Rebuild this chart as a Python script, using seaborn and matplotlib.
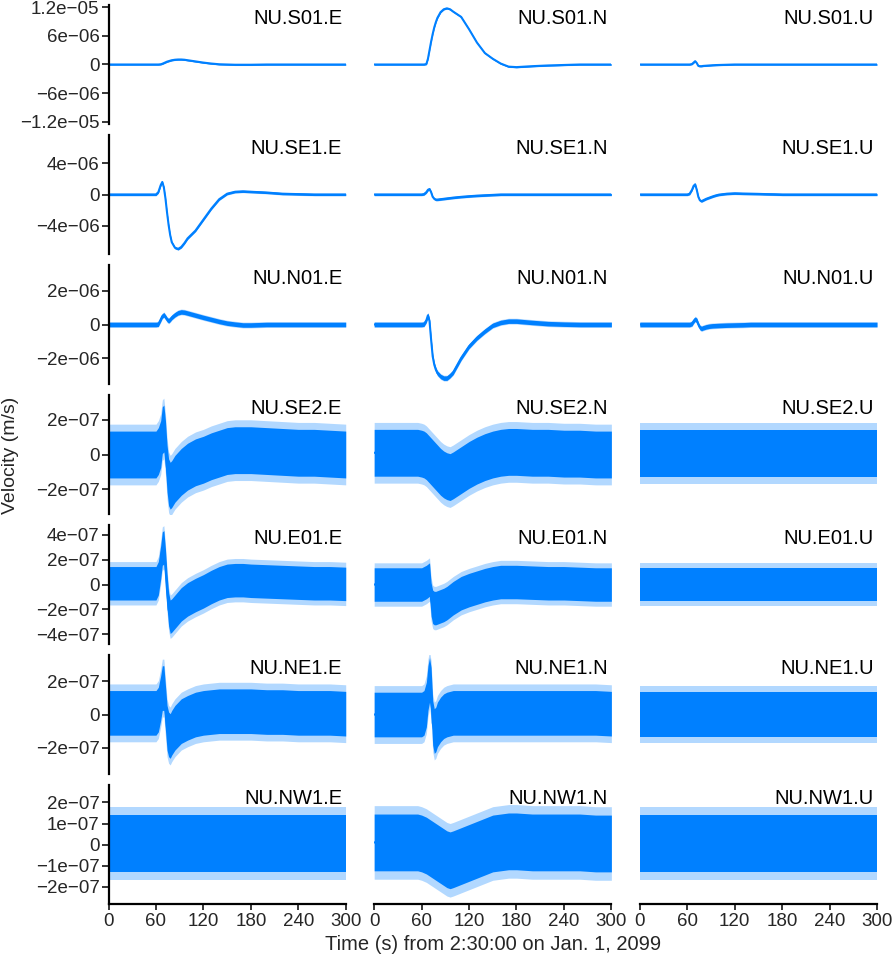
import numpy as np
import matplotlib
matplotlib.use("Agg")
import matplotlib.pyplot as plt
import seaborn as sns

# time knots (s) shared by every trace
time_s = [0, 20, 40, 55, 60, 63, 66, 68, 70, 72, 74, 76, 78, 80, 84, 88, 92, 96,
          100, 110, 120, 130, 140, 150, 160, 170, 180, 200, 220, 240, 260, 280, 300]

stations = ["S01", "SE1", "N01", "SE2", "E01", "NE1", "NW1"]
components = ["E", "N", "U"]
# values below are in these units (m/s) per row
row_unit = [1e-6, 1e-6, 1e-6, 1e-7, 1e-7, 1e-7, 1e-7]

s01_e = [0, 0, 0, 0, 0, 0, 0.05, 0.15, 0.3, 0.45, 0.6, 0.7, 0.8, 0.9, 1.0, 1.05, 1.05,
         1.0, 0.9, 0.65, 0.4, 0.2, 0.05, 0, -0.05, -0.05, -0.05, 0, 0, 0, 0, 0, 0]
s01_n = [0, 0, 0, 0, 0, 0, 0.1, 1.2, 3.0, 4.8, 6.4, 7.8, 8.9, 9.8, 11.0, 11.6, 11.8,
         11.6, 11.1, 10.0, 7.4, 4.6, 2.4, 1.2, 0.2, -0.45, -0.55, -0.35, -0.2, -0.1, 0, 0, 0]
s01_u = [0, 0, 0, 0, 0, 0, 0.1, 0.4, 0.7, 0.3, -0.3, -0.35, -0.35, -0.3, -0.25, -0.2, -0.15,
         -0.12, -0.1, -0.05, 0, 0, 0, 0, 0, 0, 0, 0, 0, 0, 0, 0, 0]

se1_e = [0, 0, 0, 0, 0, 0.3, 1.2, 1.6, 0.9, -0.5, -2.3, -3.9, -5.2, -6.1, -6.8, -6.95, -6.7,
         -6.2, -5.6, -4.6, -3.2, -1.8, -0.6, 0.1, 0.35, 0.4, 0.35, 0.25, 0.1, 0.05, 0, 0, 0]
se1_n = [0, 0, 0, 0, 0, 0.05, 0.3, 0.6, 0.7, 0.3, -0.3, -0.55, -0.65, -0.65, -0.6, -0.55, -0.5,
         -0.45, -0.4, -0.3, -0.22, -0.15, -0.1, -0.05, 0, 0, 0, 0, 0, 0, 0, 0, 0]
se1_u = [0, 0, 0, 0, 0, 0.1, 0.6, 1.1, 1.3, 0.6, -0.3, -0.75, -0.85, -0.75, -0.55, -0.4, -0.25,
         -0.12, -0.02, 0.1, 0.15, 0.12, 0.1, 0.08, 0.05, 0.03, 0, 0, 0, 0, 0, 0, 0]

n01_e = [0, 0, 0, 0, 0, 0.02, 0.3, 0.5, 0.58, 0.45, 0.3, 0.22, 0.3, 0.42, 0.58, 0.7, 0.75,
         0.73, 0.68, 0.55, 0.42, 0.3, 0.18, 0.08, 0.02, -0.03, -0.03, 0, 0, 0, 0, 0, 0]
n01_n = [0, 0, 0, 0, 0, 0.02, 0.25, 0.55, 0.2, -0.9, -1.9, -2.4, -2.7, -2.9, -3.1, -3.2, -3.2,
         -3.05, -2.85, -2.0, -1.3, -0.8, -0.4, -0.05, 0.12, 0.2, 0.2, 0.12, 0.05, 0.02, 0, 0, 0]
n01_u = [0, 0, 0, 0, 0, 0, 0.05, 0.2, 0.32, 0.25, 0.0, -0.18, -0.24, -0.2, -0.14, -0.1, -0.08,
         -0.07, -0.06, -0.04, -0.03, -0.02, 0, 0, 0, 0, 0, 0, 0, 0, 0, 0, 0]

se2_e = [0, 0, 0, 0, 0, 0.2, 0.6, 1.4, 1.5, 0.6, -0.8, -1.6, -1.8, -1.7, -1.4, -1.2, -1.0,
         -0.85, -0.7, -0.45, -0.3, -0.1, 0.05, 0.2, 0.25, 0.25, 0.25, 0.2, 0.15, 0.1, 0.1, 0.05, 0]
se2_n = [0.1, 0.1, 0.1, 0.1, 0.05, 0, -0.1, -0.2, -0.3, -0.4, -0.5, -0.6, -0.7, -0.8, -1.0, -1.15, -1.25,
         -1.3, -1.2, -0.9, -0.6, -0.35, -0.15, 0, 0.1, 0.15, 0.15, 0.1, 0.1, 0.05, 0.05, 0, 0]
se2_u = [0.05, 0.05, 0.05, 0.05, 0.05, 0.05, 0.05, 0.05, 0.05, 0.05, 0.05, 0.05, 0.05, 0.05, 0.05, 0.05, 0.05,
         0.05, 0.05, 0.05, 0.05, 0.05, 0.05, 0.05, 0.05, 0.05, 0.05, 0.05, 0.05, 0.05, 0.05, 0.05, 0.05]

e01_e = [0.1, 0.1, 0.1, 0.1, 0.1, 0.5, 1.8, 2.9, 3.0, 1.5, -0.5, -2.0, -2.6, -2.5, -2.2, -1.9, -1.6,
         -1.4, -1.2, -0.85, -0.55, -0.2, 0.1, 0.3, 0.35, 0.35, 0.3, 0.25, 0.2, 0.15, 0.1, 0.1, 0.05]
e01_n = [0, 0, 0, 0, 0, 0.1, 0.2, 0.3, 0.4, -1.2, -1.8, -1.9, -1.9, -1.85, -1.75, -1.65, -1.5,
         -1.3, -1.1, -0.7, -0.45, -0.25, -0.05, 0.1, 0.2, 0.2, 0.2, 0.15, 0.1, 0.1, 0.05, 0, 0]
e01_u = [0, 0, 0, 0, 0, 0, 0, 0, 0, 0, 0, 0, 0, 0, 0, 0, 0,
         0, 0, 0, 0, 0, 0, 0, 0, 0, 0, 0, 0, 0, 0, 0, 0]

ne1_e = [0.1, 0.1, 0.1, 0.1, 0.1, 0.3, 1.0, 1.6, 1.6, 0.4, -0.8, -1.2, -1.3, -1.1, -0.8, -0.6, -0.4,
         -0.3, -0.2, 0, 0.1, 0.15, 0.2, 0.2, 0.2, 0.2, 0.2, 0.15, 0.15, 0.1, 0.1, 0.1, 0.05]
ne1_n = [0, 0, 0, 0, 0, 0.1, 0.6, 1.6, 2.1, 1.5, -0.5, -1.0, -0.9, -0.6, -0.3, -0.1, 0,
         0.05, 0.1, 0.1, 0.1, 0.1, 0.1, 0.1, 0.1, 0.1, 0.1, 0.1, 0.1, 0.1, 0.1, 0.1, 0.05]
ne1_u = [0, 0, 0, 0, 0, 0, 0, 0, 0, 0, 0, 0, 0, 0, 0, 0, 0,
         0, 0, 0, 0, 0, 0, 0, 0, 0, 0, 0, 0, 0, 0, 0, 0]

nw1_e = [0.05, 0.05, 0.05, 0.05, 0.05, 0.05, 0.05, 0.05, 0.05, 0.05, 0.05, 0.05, 0.05, 0.05, 0.05, 0.05, 0.05,
         0.05, 0.05, 0.05, 0.05, 0.05, 0.05, 0.05, 0.05, 0.05, 0.05, 0.05, 0.05, 0.05, 0.05, 0.05, 0.05]
nw1_n = [0.1, 0.1, 0.1, 0.1, 0.05, 0, -0.05, -0.1, -0.15, -0.2, -0.25, -0.3, -0.35, -0.4, -0.5, -0.6, -0.7,
         -0.75, -0.7, -0.55, -0.4, -0.25, -0.1, 0.05, 0.1, 0.15, 0.15, 0.1, 0.1, 0.1, 0.1, 0.05, 0.05]
nw1_u = [0.05, 0.05, 0.05, 0.05, 0.05, 0.05, 0.05, 0.05, 0.05, 0.05, 0.05, 0.05, 0.05, 0.05, 0.05, 0.05, 0.05,
         0.05, 0.05, 0.05, 0.05, 0.05, 0.05, 0.05, 0.05, 0.05, 0.05, 0.05, 0.05, 0.05, 0.05, 0.05, 0.05]

traces = [[s01_e, s01_n, s01_u],
          [se1_e, se1_n, se1_u],
          [n01_e, n01_n, n01_u],
          [se2_e, se2_n, se2_u],
          [e01_e, e01_n, e01_u],
          [ne1_e, ne1_n, ne1_u],
          [nw1_e, nw1_n, nw1_u]]

# background noise seen on every trace (m/s): dense core and spike envelope
noise_core = 1.35e-7
noise_spikes = 1.75e-7

row_yticks = [[-1.2e-5, -6e-6, 0, 6e-6, 1.2e-5],
              [-4e-6, 0, 4e-6],
              [-2e-6, 0, 2e-6],
              [-2e-7, 0, 2e-7],
              [-4e-7, -2e-7, 0, 2e-7, 4e-7],
              [-2e-7, 0, 2e-7],
              [-2e-7, -1e-7, 0, 1e-7, 2e-7]]
row_ylim = [1.25e-5, 7.6e-6, 3.55e-6, 3.43e-7, 4.8e-7, 3.6e-7, 2.83e-7]
xticks = [0, 60, 120, 180, 240, 300]


def fmt(v):
    return ("%g" % v).replace("-", "\u2212")


sns.set_theme(style="ticks")
plt.rcParams["font.family"] = ["Liberation Sans", "DejaVu Sans"]

blue = "#0080ff"
fig, axes = plt.subplots(7, 3, figsize=(8.94, 9.6), dpi=100, sharex=True, sharey="row")
fig.subplots_adjust(left=0.1214, right=0.981, top=0.9948, bottom=0.0583,
                    wspace=0.12, hspace=0.0924)

for i, sta in enumerate(stations):
    for j, comp in enumerate(components):
        ax = axes[i, j]
        v = np.array(traces[i][j]) * row_unit[i]
        ax.fill_between(time_s, v - noise_spikes, v + noise_spikes, color=blue, alpha=0.3, lw=0)
        ax.fill_between(time_s, v - noise_core, v + noise_core, color=blue, lw=0)
        sns.lineplot(x=time_s, y=v, ax=ax, color=blue, linewidth=1.5)
        ax.set_xlim(0, 300)
        ax.set_ylim(-row_ylim[i], row_ylim[i])
        ax.set_xlabel("")
        ax.set_ylabel("")
        ax.text(0.985, 0.97, "NU.%s.%s" % (sta, comp), transform=ax.transAxes,
                ha="right", va="top", fontsize=14.5, color="black", zorder=10)
        for s in ["top", "right"]:
            ax.spines[s].set_visible(False)
        ax.spines["left"].set_visible(j == 0)
        ax.spines["bottom"].set_visible(i == 6)
        ax.spines["left"].set_linewidth(1.6)
        ax.spines["bottom"].set_linewidth(1.6)
        ax.spines["left"].set_color("black")
        ax.spines["bottom"].set_color("black")
        ax.tick_params(axis="y", left=(j == 0), labelleft=(j == 0), length=5, width=1.1,
                       pad=1.5, labelsize=13.5, color="black")
        ax.tick_params(axis="x", bottom=(i == 6), labelbottom=(i == 6), length=4.5, width=1.1,
                       pad=2, labelsize=13.5, color="black")
        if j == 0:
            ax.set_yticks(row_yticks[i], labels=[fmt(t) for t in row_yticks[i]])
        if i == 6:
            ax.set_xticks(xticks, labels=[str(t) for t in xticks])

fig.text(0.012, 0.526, "Velocity (m/s)", rotation=90, ha="center", va="center", fontsize=14)
fig.text(0.5515, 1 - 945 / 960, "Time (s) from 2:30:00 on Jan. 1, 2099",
         ha="center", va="center", fontsize=14.5)

fig.savefig("out.png", dpi=100)
